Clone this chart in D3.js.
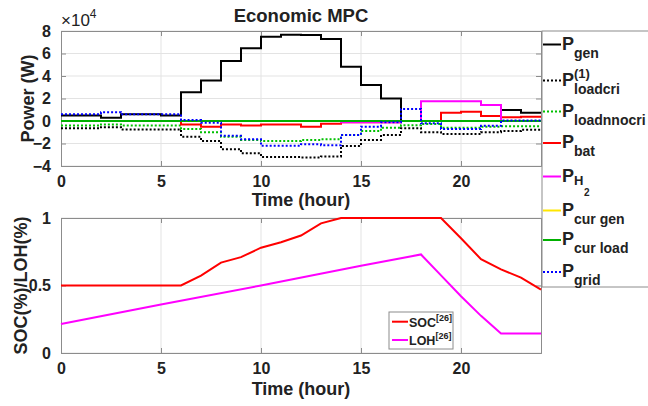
<!DOCTYPE html>
<html>
<head>
<meta charset="utf-8">
<script src="https://cdn.jsdelivr.net/npm/d3@7"></script>
<style>
  body { margin: 0; background: #fff; }
  text { font-family: Arial, "Liberation Sans", sans-serif; font-weight: bold; fill: #222; }
</style>
</head>
<body>
<svg id="chart" width="648" height="406"></svg>
<script>
// hourly values (x 1e4 W), held from hour h to h+1
var hours = d3.range(0, 25);
var pGen      = [0.5,0.5,0.3,0.6,0.6,0.5,2.55,3.6,5.33,6.46,7.5,7.67,7.64,7.29,4.83,3.2,2.0,0,0,0,0,0,0.98,0.74];
var pLoadCri  = [-0.65,-0.65,-0.55,-0.75,-0.75,-0.75,-1.4,-1.78,-2.5,-2.87,-3.2,-3.2,-3.25,-3.15,-2.22,-1.69,-1.24,-0.65,-1.0,-1.16,-1.16,-1.0,-0.89,-0.77];
var pLoadNon  = [-0.4,-0.4,-0.3,-0.4,-0.4,-0.4,-0.71,-1.0,-1.4,-1.69,-1.78,-1.78,-1.69,-1.63,-1.24,-0.89,-0.6,-0.38,-0.27,-0.6,-0.6,-0.5,-0.47,-0.47];
var pBat      = [0,0,0,0,0,0,-0.3,-0.5,-0.3,-0.4,-0.3,-0.3,-0.5,-0.25,-0.12,-0.12,-0.12,0,0,0.74,0.83,0.44,0.33,0.38];
var pH2       = [0,0,0,0,0,0,0,0,0,0,0,0,0,0,-0.12,-0.12,-0.12,0,1.75,1.75,1.75,1.42,0,0];
var pCurGen   = [0,0,0,0,0,0,0,0,0,0,0,0,0,0,0,0,0,0,0,0,0,0,0,0];
var pCurLoad  = [0,0,0,0,0,0,0,0,0,0,0,0,0,0,0,0,0,0,0,0,0,0,0,0];
var pGrid     = [0.6,0.6,0.77,0.6,0.6,0.6,0.1,-0.15,-1.3,-1.63,-2.2,-2.2,-2.07,-2.15,-1.24,-0.5,-0.12,1.07,-0.2,-0.71,-0.71,-0.42,0.05,0.05];

var socHours = [0,6,7,8,9,10,11,12,13,14,19,20,21,22,23,24];
var soc      = [0.5,0.5,0.573,0.67,0.71,0.78,0.82,0.87,0.96,1,1,0.85,0.695,0.62,0.558,0.47];
var lohHours = [0,5,10,15,18,19,20,21,22,24];
var loh      = [0.215,0.36,0.5,0.646,0.73,0.575,0.42,0.275,0.145,0.145];

var xTicks = [0,5,10,15,20];
var yTicksTop = [-4,-2,0,2,4,6,8];
var yTicksBot = [0,0.5,1];

var series = [
  {name: "gen", sup: null, vals: pGen, color: "#000", dash: null},
  {name: "loadcri", sup: "(1)", vals: pLoadCri, color: "#000", dash: "2,2"},
  {name: "loadnnocri", sup: null, vals: pLoadNon, color: "#00c000", dash: "2,2"},
  {name: "bat", sup: null, vals: pBat, color: "#ff0000", dash: null},
  {name: "H2", sup: null, vals: pH2, color: "#ff00ff", dash: null},
  {name: "cur gen", sup: null, vals: pCurGen, color: "#ffe600", dash: null},
  {name: "cur load", sup: null, vals: pCurLoad, color: "#00b000", dash: null},
  {name: "grid", sup: null, vals: pGrid, color: "#0000ff", dash: "2,2"}
];

var svg = d3.select("#chart");
var gridColor = "#e3e3e3", axisColor = "#8c8c8c";

var x = d3.scaleLinear().domain([0, 24]).range([61, 541]);
var yTop = d3.scaleLinear().domain([-4, 8]).range([166, 31]);
var yBot = d3.scaleLinear().domain([0, 1]).range([353, 218]);

function drawFrame(y, yTicks, yFmt) {
  var g = svg.append("g");
  var top = y.range()[1], bottom = y.range()[0];
  g.append("rect").attr("x", x(0)).attr("y", top).attr("width", x(24) - x(0)).attr("height", bottom - top).attr("fill", "#fff");
  g.selectAll(".vg").data(xTicks.slice(1)).enter().append("line")
    .attr("x1", d => x(d)).attr("x2", d => x(d)).attr("y1", top).attr("y2", bottom)
    .attr("stroke", gridColor).attr("stroke-width", 1);
  g.selectAll(".hg").data(yTicks).enter().append("line")
    .attr("x1", x(0)).attr("x2", x(24)).attr("y1", d => y(d)).attr("y2", d => y(d))
    .attr("stroke", gridColor).attr("stroke-width", 1);

  var ax = [
    d3.axisBottom(x).tickValues(xTicks).tickSize(-5).tickPadding(10),
    d3.axisTop(x).tickValues(xTicks).tickSize(-5).tickFormat(""),
    d3.axisLeft(y).tickValues(yTicks).tickSize(-5).tickPadding(10).tickFormat(yFmt),
    d3.axisRight(y).tickValues(yTicks).tickSize(-5).tickFormat("")
  ];
  var pos = ["translate(0," + bottom + ")", "translate(0," + top + ")", "translate(" + x(0) + ",0)", "translate(" + x(24) + ",0)"];
  ax.forEach(function(a, i) {
    var ga = g.append("g").attr("transform", pos[i]).call(a);
    ga.select(".domain").attr("stroke", axisColor);
    ga.selectAll(".tick line").attr("stroke", axisColor);
    ga.selectAll("text").style("font-size", "16px").attr("fill", "#222")
      .style("font-family", "Arial, 'Liberation Sans', sans-serif").style("font-weight", "bold");
  });
  return g;
}

// ---- top plot
drawFrame(yTop, yTicksTop, d3.format("d"));

var stepLine = d3.line()
  .x(function(d, i) { return x(hours[i]); })
  .y(function(d) { return yTop(d); })
  .curve(d3.curveStepAfter);

series.forEach(function(s) {
  var v = s.vals.concat([s.vals[s.vals.length - 1]]);
  svg.append("path").datum(v)
    .attr("d", stepLine)
    .attr("fill", "none")
    .attr("stroke", s.color)
    .attr("stroke-width", 2)
    .attr("stroke-dasharray", s.dash);
});

svg.append("text").attr("x", 301).attr("y", 22).attr("text-anchor", "middle")
  .style("font-size", "18.5px").text("Economic MPC");

var mult = svg.append("text").attr("x", 61).attr("y", 26).style("font-size", "17px").style("font-weight", "normal");
mult.append("tspan").text("\u00d710");
mult.append("tspan").attr("dy", -8).style("font-size", "12px").text("4");

svg.append("text").attr("transform", "translate(34,98.5) rotate(-90)").attr("text-anchor", "middle")
  .style("font-size", "18px").text("Power (W)");
svg.append("text").attr("x", 301).attr("y", 206).attr("text-anchor", "middle")
  .style("font-size", "18px").text("Time (hour)");

// ---- right legend
var legendY = [44.5, 80.5, 111.5, 143, 176.5, 210.5, 240, 272];
var lg = svg.append("g");
lg.append("rect").attr("x", 542).attr("y", 31).attr("width", 110).attr("height", 256)
  .attr("fill", "#fff").attr("stroke", axisColor).attr("stroke-width", 1);
series.forEach(function(s, i) {
  var ly = legendY[i];
  lg.append("line").attr("x1", 543).attr("x2", 561).attr("y1", ly).attr("y2", ly)
    .attr("stroke", s.color).attr("stroke-width", 2).attr("stroke-dasharray", s.dash);
  lg.append("text").attr("x", 562).attr("y", ly + 5).style("font-size", "18px").text("P");
  if (s.sup) {
    lg.append("text").attr("x", 574).attr("y", ly - 3).style("font-size", "13px").text(s.sup);
  }
  if (s.name === "H2") {
    lg.append("text").attr("x", 574).attr("y", ly + 8).style("font-size", "13px").text("H");
    lg.append("text").attr("x", 584).attr("y", ly + 19).style("font-size", "10px").text("2");
  } else {
    lg.append("text").attr("x", 574).attr("y", ly + 13).style("font-size", "14px").text(s.name);
  }
});

// ---- bottom plot
drawFrame(yBot, yTicksBot, function(d) { return d === 0.5 ? "0.5" : d3.format("d")(d); });

var ptLine = d3.line().x(d => x(d[0])).y(d => yBot(d[1]));
svg.append("path").datum(d3.zip(socHours, soc)).attr("d", ptLine)
  .attr("fill", "none").attr("stroke", "#ff0000").attr("stroke-width", 2);
svg.append("path").datum(d3.zip(lohHours, loh)).attr("d", ptLine)
  .attr("fill", "none").attr("stroke", "#ff00ff").attr("stroke-width", 2);

var bl = svg.append("g");
bl.append("rect").attr("x", 389).attr("y", 312).attr("width", 64).attr("height", 37)
  .attr("fill", "#fff").attr("stroke", axisColor).attr("stroke-width", 1);
[["SOC", "#ff0000"], ["LOH", "#ff00ff"]].forEach(function(e, i) {
  var ly = 321.7 + i * 18.3;
  bl.append("line").attr("x1", 392).attr("x2", 408).attr("y1", ly).attr("y2", ly)
    .attr("stroke", e[1]).attr("stroke-width", 2);
  var t = bl.append("text").attr("x", 409).attr("y", ly + 5).style("font-size", "12.5px");
  t.append("tspan").text(e[0]);
  t.append("tspan").attr("dy", -6).style("font-size", "9px").text("[26]");
});

svg.append("text").attr("transform", "translate(27,285.5) rotate(-90)").attr("text-anchor", "middle")
  .style("font-size", "18px").text("SOC(%)/LOH(%)");
svg.append("text").attr("x", 301).attr("y", 395).attr("text-anchor", "middle")
  .style("font-size", "18px").text("Time (hour)");
</script>
</body>
</html>
